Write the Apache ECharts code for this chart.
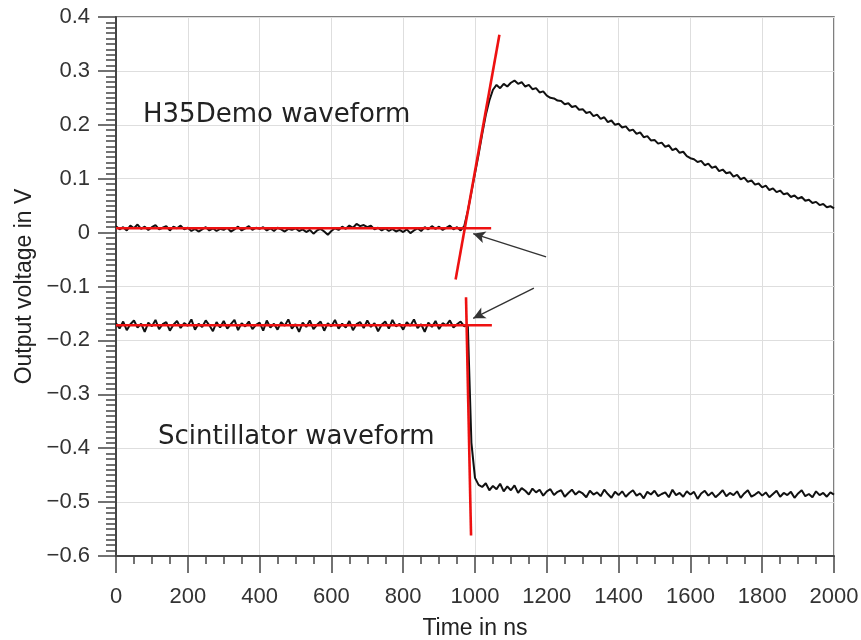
<!DOCTYPE html>
<html>
<head>
<meta charset="utf-8">
<script src="https://cdn.jsdelivr.net/npm/echarts@6/dist/echarts.min.js"></script>
<style>html,body{margin:0;padding:0;background:#fff}#c{width:861px;height:640px}</style>
</head>
<body>
<div id="c"></div>
<script>
// sample spacing of the digitised waveforms (ns)
const timeStepNs = 10;

// H35Demo waveform, 0..2000 ns (V)
const h35Values = [
  0.012, 0.006, 0.010, 0.004, 0.013, 0.008, 0.015, 0.007, 0.011, 0.005,
  0.010, 0.014, 0.006, 0.009, 0.012, 0.004, 0.011, 0.008, 0.013, 0.006,
  0.009, 0.003, 0.007, 0.002, 0.006, 0.010, 0.004, 0.008, 0.003, 0.007,
  0.005, 0.009, 0.002, 0.006, 0.011, 0.004, 0.008, 0.012, 0.005, 0.009,
  0.007, 0.010, 0.004, 0.008, 0.003, 0.009, 0.006, 0.002, 0.007, 0.005,
  0.008, 0.003, 0.006, 0.001, 0.005, -0.002, 0.004, 0.007, 0.002, -0.004,
  0.003, 0.008, 0.005, 0.011, 0.007, 0.013, 0.009, 0.016, 0.012, 0.014,
  0.010, 0.013, 0.006, 0.009, 0.004, 0.008, 0.003, 0.007, 0.002, 0.005,
  0.001, 0.006, -0.001, 0.004, 0.008, 0.003, 0.010, 0.006, 0.012, 0.007,
  0.011, 0.005, 0.009, 0.013, 0.006, 0.010, 0.004, 0.012, 0.040, 0.075,
  0.110, 0.145, 0.183, 0.218, 0.245, 0.265, 0.274, 0.268, 0.276, 0.271,
  0.278, 0.282, 0.276, 0.279, 0.271, 0.274, 0.266, 0.268, 0.260, 0.262,
  0.254, 0.250, 0.249, 0.245, 0.244, 0.238, 0.240, 0.233, 0.235, 0.228,
  0.229, 0.222, 0.224, 0.216, 0.219, 0.211, 0.214, 0.205, 0.208, 0.200,
  0.202, 0.195, 0.197, 0.189, 0.191, 0.183, 0.186, 0.177, 0.179, 0.171,
  0.172, 0.165, 0.167, 0.159, 0.162, 0.153, 0.156, 0.148, 0.150, 0.142,
  0.138, 0.136, 0.131, 0.133, 0.125, 0.128, 0.120, 0.123, 0.114, 0.117,
  0.110, 0.112, 0.104, 0.107, 0.099, 0.102, 0.094, 0.097, 0.089, 0.091,
  0.084, 0.087, 0.079, 0.082, 0.075, 0.078, 0.071, 0.073, 0.066, 0.069,
  0.063, 0.066, 0.059, 0.061, 0.055, 0.057, 0.051, 0.053, 0.047, 0.049,
  0.045
];

// Scintillator waveform, 0..2000 ns (V)
const scintValues = [
  -0.168, -0.178, -0.165, -0.181, -0.170, -0.163, -0.176, -0.169, -0.184, -0.167,
  -0.174, -0.162, -0.179, -0.170, -0.166, -0.182, -0.171, -0.164, -0.177, -0.168,
  -0.173, -0.161, -0.180, -0.169, -0.175, -0.163, -0.172, -0.183, -0.166, -0.176,
  -0.164, -0.178, -0.170, -0.162, -0.181, -0.168, -0.174, -0.165, -0.179, -0.171,
  -0.167, -0.182, -0.163, -0.176, -0.169, -0.180, -0.166, -0.173, -0.161, -0.178,
  -0.170, -0.184, -0.167, -0.175, -0.163, -0.179, -0.171, -0.165, -0.182, -0.168,
  -0.174, -0.162, -0.178, -0.169, -0.176, -0.164, -0.181, -0.170, -0.166, -0.177,
  -0.163, -0.175, -0.168, -0.183, -0.171, -0.165, -0.178, -0.162, -0.174, -0.169,
  -0.180, -0.166, -0.173, -0.161, -0.177, -0.170, -0.184, -0.167, -0.175, -0.164,
  -0.179, -0.168, -0.172, -0.163, -0.176, -0.170, -0.165, -0.174, -0.171, -0.390,
  -0.455, -0.468, -0.472, -0.465, -0.478, -0.470, -0.476, -0.466, -0.480, -0.471,
  -0.478, -0.469, -0.483, -0.474, -0.479, -0.486, -0.475, -0.482, -0.477, -0.488,
  -0.480, -0.476, -0.487, -0.481, -0.478, -0.490, -0.483, -0.477, -0.486, -0.480,
  -0.484, -0.491, -0.479, -0.486, -0.482, -0.489, -0.477, -0.485, -0.492, -0.481,
  -0.487, -0.480, -0.490, -0.483, -0.478, -0.488, -0.484, -0.493, -0.481, -0.486,
  -0.479, -0.489, -0.485, -0.482, -0.491, -0.477, -0.487, -0.483, -0.490, -0.480,
  -0.486, -0.481, -0.494, -0.484, -0.479, -0.488, -0.482, -0.491, -0.485, -0.478,
  -0.489, -0.483, -0.487, -0.480, -0.492, -0.484, -0.478, -0.490, -0.486, -0.481,
  -0.488, -0.482, -0.491, -0.485, -0.479, -0.490, -0.483, -0.487, -0.481, -0.492,
  -0.484, -0.478, -0.489, -0.485, -0.491, -0.480, -0.487, -0.483, -0.490, -0.482,
  -0.486
];

// red fitted lines [time ns, V]
const h35BaselineFit = [[0, 0.008], [1045, 0.008]];
const h35RiseFit = [[946, -0.087], [1068, 0.367]];
const scintBaselineFit = [[0, -0.172], [1047, -0.172]];
const scintFallFit = [[975, -0.12], [989, -0.562]];

// annotation arrows [from, to] in [time ns, V]
const arrowUpper = [[1198, -0.045], [995, -0.002]];
const arrowLower = [[1164, -0.103], [995, -0.159]];

// axis ranges / ticks
const xMin = 0, xMax = 2000, xInterval = 200;
const yMin = -0.6, yMax = 0.4, yInterval = 0.1;

const labelsText = { h35: 'H35Demo waveform', scint: 'Scintillator waveform' };

function toPairs(values) {
  return values.map((v, i) => [i * timeStepNs, v]);
}

const chart = echarts.init(document.getElementById('c'), null, { renderer: 'canvas' });

const fitStyle = { color: '#ee1111', width: 2.6 };
function fitSeries(data) {
  return {
    type: 'line', data: data, symbol: 'none', silent: true, z: 5,
    lineStyle: fitStyle, animation: false
  };
}

const labelFont = 'Liberation Sans, Arial, sans-serif';

chart.setOption({
  animation: false,
  backgroundColor: '#ffffff',
  grid: {
    left: 116, right: 27, top: 17, bottom: 84,
    show: true, borderColor: '#555', borderWidth: 1.5,
    containLabel: false, outerBoundsMode: 'none'
  },
  xAxis: {
    type: 'value', min: xMin, max: xMax, interval: xInterval,
    name: 'Time in ns', nameLocation: 'middle', nameGap: 61,
    nameTextStyle: { fontFamily: labelFont, fontSize: 23, color: '#222' },
    axisLine: { show: true, onZero: false, lineStyle: { color: '#444', width: 2 } },
    axisTick: { show: true, inside: false, length: 17, lineStyle: { color: '#444', width: 1.5 } },
    minorTick: { show: true, splitNumber: 4, length: 8, lineStyle: { color: '#444', width: 1.5 } },
    axisLabel: {
      margin: 30, fontFamily: labelFont, fontSize: 22, color: '#333', showMaxLabel: true,
      formatter: function (v) { return String(Math.round(v)); }
    },
    splitLine: { show: true, lineStyle: { color: '#dedede', width: 1 } }
  },
  yAxis: {
    type: 'value', min: yMin, max: yMax, interval: yInterval,
    name: 'Output voltage in V', nameLocation: 'middle', nameGap: 79, nameRotate: 90,
    nameTextStyle: { fontFamily: labelFont, fontSize: 23, color: '#222' },
    axisLine: { show: true, onZero: false, lineStyle: { color: '#444', width: 2 } },
    axisTick: { show: true, inside: false, length: 18, lineStyle: { color: '#444', width: 1.5 } },
    minorTick: { show: true, splitNumber: 10, length: 10, lineStyle: { color: '#444', width: 1.5 } },
    axisLabel: {
      margin: 26, fontFamily: labelFont, fontSize: 22, color: '#333',
      formatter: function (v) {
        const r = Math.round(v * 10) / 10;
        if (r === 0) return '0';
        return (r < 0 ? '\u2212' : '') + Math.abs(r).toFixed(1);
      }
    },
    splitLine: { show: true, lineStyle: { color: '#dedede', width: 1 } }
  },
  series: [
    {
      type: 'line', name: 'H35Demo', data: toPairs(h35Values), symbol: 'none',
      lineStyle: { color: '#111', width: 2 }, z: 3
    },
    {
      type: 'line', name: 'Scintillator', data: toPairs(scintValues), symbol: 'none',
      lineStyle: { color: '#111', width: 2 }, z: 3
    },
    fitSeries(h35BaselineFit),
    fitSeries(h35RiseFit),
    fitSeries(scintBaselineFit),
    fitSeries(scintFallFit),
    {
      type: 'line', data: [], symbol: 'none', z: 6,
      markLine: {
        silent: true, symbol: ['none', 'arrow'], symbolSize: [9, 12],
        label: { show: false },
        lineStyle: { color: '#333', width: 1.4, type: 'solid' },
        data: [
          [{ coord: arrowUpper[0] }, { coord: arrowUpper[1] }],
          [{ coord: arrowLower[0] }, { coord: arrowLower[1] }]
        ]
      }
    }
  ],
  graphic: [
    {
      type: 'text', left: 143, top: 102, z: 10,
      style: { text: labelsText.h35, fontFamily: 'DejaVu Sans', fontSize: 26, fill: '#222' }
    },
    {
      type: 'text', left: 158, top: 424, z: 10,
      style: { text: labelsText.scint, fontFamily: 'DejaVu Sans', fontSize: 26, fill: '#222' }
    }
  ]
});
</script>
</body>
</html>
